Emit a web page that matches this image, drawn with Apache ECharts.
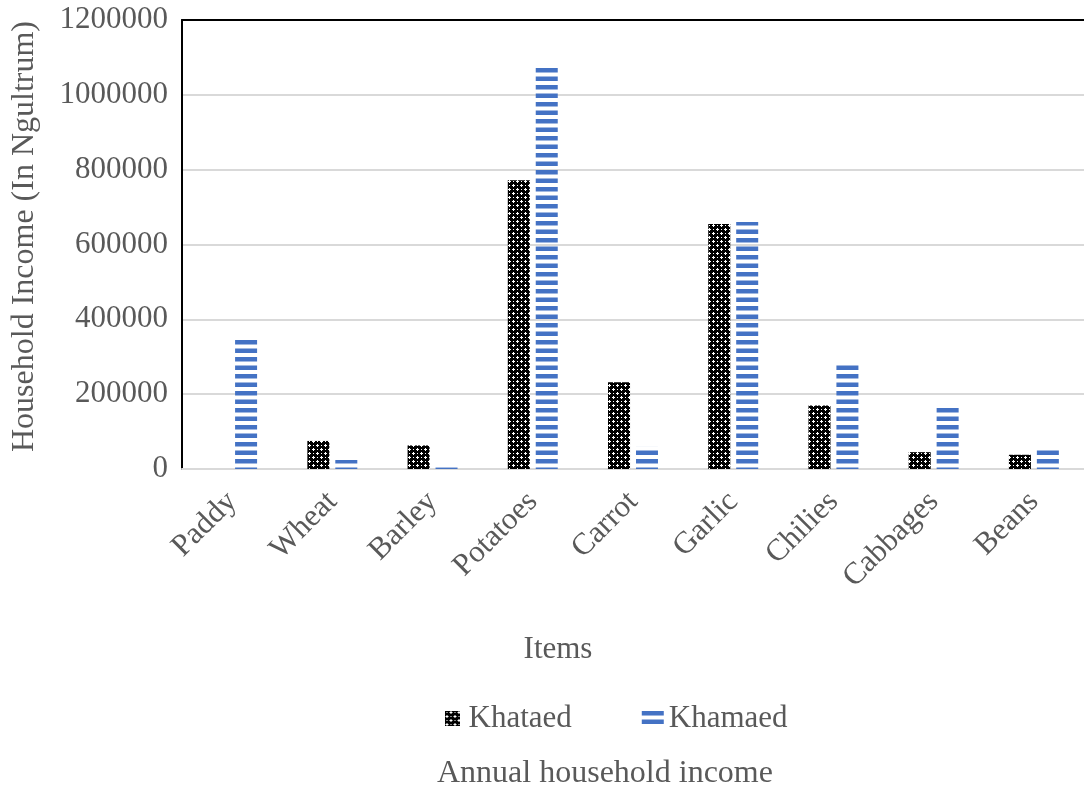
<!DOCTYPE html>
<html>
<head>
<meta charset="utf-8">
<script src="https://cdn.jsdelivr.net/npm/echarts@6/dist/echarts.min.js"></script>
<style>
  html, body { margin: 0; padding: 0; background: #fff; }
  #chart { width: 1084px; height: 785px; }
</style>
</head>
<body>
<div id="chart"></div>
<script>
// Annual household income per crop item (Ngultrum)
const categories = ['Paddy', 'Wheat', 'Barley', 'Potatoes', 'Carrot', 'Garlic', 'Chilies', 'Cabbages', 'Beans'];
const khataed = [0, 75000, 63000, 772000, 232000, 655000, 170000, 45000, 38000];
const khamaed = [345000, 24000, 5000, 1078000, 59000, 660000, 284000, 166000, 57000];
const seriesNames = ['Khataed', 'Khamaed'];
const yMin = 0, yMax = 1200000, yStep = 200000;

const FONT = "'Liberation Serif', 'Times New Roman', serif";
const TEXT = '#595959';

// Black checker fill with small white crosses
function checkerPattern() {
  const cv = document.createElement('canvas');
  cv.width = 8; cv.height = 8;
  const c = cv.getContext('2d');
  c.fillStyle = '#000';
  c.fillRect(0, 0, 8, 8);
  c.fillStyle = '#fff';
  const px = [[1,0],[0,1],[1,1],[2,1],[1,2],[5,4],[4,5],[5,5],[6,5],[5,6],[5,1],[1,5]];
  px.forEach(p => c.fillRect(p[0], p[1], 1, 1));
  return cv;
}

// Blue horizontal stripes, period 8.5px
function stripePattern() {
  const cv = document.createElement('canvas');
  cv.width = 8; cv.height = 17;
  const c = cv.getContext('2d');
  c.fillStyle = '#4472C4';
  c.fillRect(0, 0, 8, 4.5);
  c.fillRect(0, 8.5, 8, 4.5);
  return cv;
}

const chart = echarts.init(document.getElementById('chart'), null, { renderer: 'canvas' });

chart.setOption({
  backgroundColor: '#fff',
  animation: false,
  textStyle: { fontFamily: FONT, color: TEXT },
  title: {
    text: 'Annual household income',
    left: 432,
    top: 753,
    textStyle: { fontFamily: FONT, fontSize: 32, fontWeight: 'normal', color: TEXT }
  },
  legend: {
    data: [
      { name: seriesNames[0], icon: 'path://M0,0L1,0L1,1L0,1Z' },
      { name: seriesNames[1], icon: 'rect' }
    ],
    left: 440,
    top: 698,
    itemWidth: 22,
    itemHeight: 15,
    itemGap: 70,
    textStyle: { fontFamily: FONT, fontSize: 31, color: TEXT }
  },
  grid: { left: 182, right: 0, top: 20, bottom: 316, containLabel: false },
  xAxis: [{
    type: 'category',
    data: categories,
    name: 'Items',
    nameLocation: 'middle',
    nameGap: 165,
    nameTextStyle: { fontFamily: FONT, fontSize: 31, color: TEXT, padding: [0, 150, 0, 0] },
    axisLine: { lineStyle: { color: '#d9d9d9', width: 2 } },
    axisTick: { show: false },
    axisLabel: { rotate: 45, fontFamily: FONT, fontSize: 31, color: TEXT, margin: 28, interval: 0 }
  }, {
    type: 'category',
    data: categories,
    position: 'top',
    z: 5,
    axisLine: { show: true, lineStyle: { color: '#000', width: 2 } },
    axisTick: { show: false },
    axisLabel: { show: false },
    splitLine: { show: false }
  }],
  yAxis: {
    type: 'value',
    min: yMin,
    max: yMax,
    interval: yStep,
    name: 'Household Income (In Ngultrum)',
    nameLocation: 'middle',
    nameGap: 141,
    nameTextStyle: { fontFamily: FONT, fontSize: 32, color: TEXT, padding: [0, 0, 0, 16] },
    axisLine: { show: true, lineStyle: { color: '#000', width: 2 } },
    axisTick: { show: false },
    axisLabel: { fontFamily: FONT, fontSize: 31, color: TEXT, margin: 14, formatter: v => String(v) },
    splitLine: { lineStyle: { color: '#d9d9d9', width: 2 } }
  },
  series: [{
    name: seriesNames[0],
    type: 'bar',
    data: khataed,
    barWidth: 22,
    barGap: '27%',
    itemStyle: { color: { image: checkerPattern(), repeat: 'repeat' } }
  }, {
    name: seriesNames[1],
    type: 'bar',
    data: khamaed,
    barWidth: 22,
    itemStyle: { color: { image: stripePattern(), repeat: 'repeat' } }
  }]
});
</script>
</body>
</html>
